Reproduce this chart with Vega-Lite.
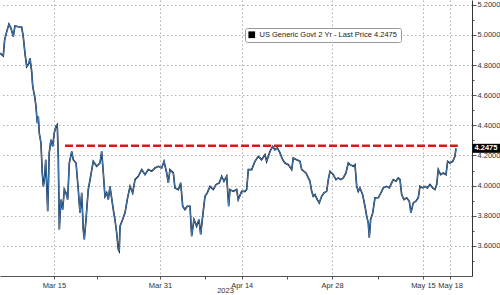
{
  "$schema": "https://vega.github.io/schema/vega-lite/v6.json",
  "width": 472,
  "height": 276,
  "autosize": "none",
  "padding": {"left": 0, "top": 0, "right": 28, "bottom": 19},
  "background": "white",
  "config": {"font": "Liberation Sans", "view": {"stroke": null}},
  "datasets": {
    "yield": [
      {"t": -6.27, "v": 4.879}, {"t": -5.89, "v": 4.861}, {"t": -5.73, "v": 4.967}, {"t": -5.49, "v": 5.022},
      {"t": -5.23, "v": 5.071}, {"t": -4.99, "v": 5.044}, {"t": -4.73, "v": 4.989}, {"t": -4.53, "v": 5.06},
      {"t": -4.15, "v": 5.055}, {"t": -3.75, "v": 5.051}, {"t": -3.57, "v": 4.989}, {"t": -3.37, "v": 4.879},
      {"t": -3.17, "v": 4.79}, {"t": -2.9, "v": 4.813}, {"t": -2.79, "v": 4.846}, {"t": -2.59, "v": 4.757},
      {"t": -2.47, "v": 4.658}, {"t": -2.21, "v": 4.581}, {"t": -2.09, "v": 4.525}, {"t": -1.94, "v": 4.415},
      {"t": -1.82, "v": 4.459}, {"t": -1.71, "v": 4.349}, {"t": -1.51, "v": 4.283}, {"t": -1.36, "v": 4.084},
      {"t": -1.24, "v": 3.995}, {"t": -1.13, "v": 4.029}, {"t": -0.96, "v": 4.172}, {"t": -0.73, "v": 3.83},
      {"t": -0.55, "v": 4.217}, {"t": -0.35, "v": 4.305}, {"t": -0.15, "v": 4.26}, {"t": 0.03, "v": 4.349},
      {"t": 0.23, "v": 4.393}, {"t": 0.38, "v": 4.404}, {"t": 0.5, "v": 4.194}, {"t": 0.62, "v": 3.709},
      {"t": 0.81, "v": 3.907}, {"t": 1.01, "v": 3.841}, {"t": 1.2, "v": 3.974}, {"t": 1.39, "v": 3.952},
      {"t": 1.59, "v": 3.907}, {"t": 1.78, "v": 4.15}, {"t": 2.06, "v": 4.227}, {"t": 2.24, "v": 4.172},
      {"t": 2.56, "v": 4.15}, {"t": 2.82, "v": 3.974}, {"t": 3.02, "v": 3.819}, {"t": 3.22, "v": 3.952},
      {"t": 3.4, "v": 3.709}, {"t": 3.52, "v": 3.642}, {"t": 3.72, "v": 3.775}, {"t": 3.98, "v": 3.974},
      {"t": 4.26, "v": 4.062}, {"t": 4.56, "v": 4.161}, {"t": 4.96, "v": 4.128}, {"t": 5.34, "v": 4.15},
      {"t": 5.54, "v": 4.227}, {"t": 5.73, "v": 4.084}, {"t": 5.92, "v": 3.929}, {"t": 6.12, "v": 3.952},
      {"t": 6.31, "v": 3.907}, {"t": 6.5, "v": 3.995}, {"t": 6.89, "v": 3.841}, {"t": 7.08, "v": 3.775},
      {"t": 7.28, "v": 3.687}, {"t": 7.47, "v": 3.576}, {"t": 7.58, "v": 3.565}, {"t": 7.67, "v": 3.731},
      {"t": 7.97, "v": 3.775}, {"t": 8.25, "v": 3.819}, {"t": 8.51, "v": 3.907}, {"t": 8.83, "v": 3.995},
      {"t": 9.14, "v": 3.952}, {"t": 9.41, "v": 4.04}, {"t": 9.79, "v": 4.062}, {"t": 10.19, "v": 4.106},
      {"t": 10.57, "v": 4.073}, {"t": 10.95, "v": 4.106}, {"t": 11.35, "v": 4.095}, {"t": 11.73, "v": 4.117},
      {"t": 12.11, "v": 4.128}, {"t": 12.51, "v": 4.117}, {"t": 12.78, "v": 4.161}, {"t": 13.09, "v": 4.084},
      {"t": 13.28, "v": 4.018}, {"t": 13.47, "v": 4.106}, {"t": 13.86, "v": 4.084}, {"t": 14.05, "v": 3.985},
      {"t": 14.44, "v": 3.974}, {"t": 14.72, "v": 4.018}, {"t": 14.95, "v": 3.863}, {"t": 15.21, "v": 3.841},
      {"t": 15.48, "v": 3.863}, {"t": 15.8, "v": 3.863}, {"t": 15.99, "v": 3.664}, {"t": 16.26, "v": 3.775},
      {"t": 16.57, "v": 3.731}, {"t": 16.84, "v": 3.775}, {"t": 17.04, "v": 3.676}, {"t": 17.27, "v": 3.797},
      {"t": 17.54, "v": 3.929}, {"t": 17.8, "v": 3.952}, {"t": 18.12, "v": 3.995}, {"t": 18.5, "v": 3.974},
      {"t": 18.82, "v": 4.007}, {"t": 19.2, "v": 4.018}, {"t": 19.48, "v": 4.062}, {"t": 19.74, "v": 4.029},
      {"t": 20.06, "v": 4.062}, {"t": 20.29, "v": 3.863}, {"t": 20.44, "v": 3.974}, {"t": 20.82, "v": 3.962},
      {"t": 21.22, "v": 3.974}, {"t": 21.4, "v": 3.907}, {"t": 21.8, "v": 3.962}, {"t": 22.18, "v": 3.962},
      {"t": 22.38, "v": 3.974}, {"t": 22.57, "v": 4.106}, {"t": 22.96, "v": 4.106}, {"t": 23.34, "v": 4.161},
      {"t": 23.73, "v": 4.194}, {"t": 24.12, "v": 4.172}, {"t": 24.51, "v": 4.205}, {"t": 24.7, "v": 4.161},
      {"t": 25.09, "v": 4.227}, {"t": 25.4, "v": 4.26}, {"t": 25.67, "v": 4.238}, {"t": 25.94, "v": 4.25},
      {"t": 26.25, "v": 4.217}, {"t": 26.56, "v": 4.172}, {"t": 26.83, "v": 4.15}, {"t": 27.21, "v": 4.139},
      {"t": 27.61, "v": 4.106}, {"t": 27.79, "v": 4.183}, {"t": 28.18, "v": 4.172}, {"t": 28.57, "v": 4.161},
      {"t": 28.77, "v": 4.106}, {"t": 29.04, "v": 4.095}, {"t": 29.27, "v": 4.084}, {"t": 29.54, "v": 4.051},
      {"t": 29.73, "v": 4.029}, {"t": 29.93, "v": 3.962}, {"t": 30.11, "v": 3.929}, {"t": 30.31, "v": 3.94},
      {"t": 30.58, "v": 3.907}, {"t": 30.81, "v": 3.885}, {"t": 31.09, "v": 3.929}, {"t": 31.36, "v": 3.952},
      {"t": 31.67, "v": 3.962}, {"t": 31.86, "v": 4.04}, {"t": 32.06, "v": 4.095}, {"t": 32.44, "v": 4.073},
      {"t": 32.75, "v": 4.04}, {"t": 33.02, "v": 4.051}, {"t": 33.3, "v": 4.04}, {"t": 33.6, "v": 4.051},
      {"t": 33.91, "v": 4.084}, {"t": 34.18, "v": 4.15}, {"t": 34.38, "v": 4.139}, {"t": 34.76, "v": 4.128},
      {"t": 34.96, "v": 4.139}, {"t": 35.16, "v": 3.995}, {"t": 35.34, "v": 3.962}, {"t": 35.54, "v": 3.985},
      {"t": 35.85, "v": 3.94}, {"t": 36.12, "v": 3.863}, {"t": 36.32, "v": 3.797}, {"t": 36.5, "v": 3.753},
      {"t": 36.62, "v": 3.654}, {"t": 36.78, "v": 3.775}, {"t": 37.02, "v": 3.819}, {"t": 37.28, "v": 3.919},
      {"t": 37.67, "v": 3.919}, {"t": 38.06, "v": 3.962}, {"t": 38.25, "v": 3.985}, {"t": 38.64, "v": 3.995},
      {"t": 38.94, "v": 3.985}, {"t": 39.22, "v": 4.018}, {"t": 39.41, "v": 4.04}, {"t": 39.72, "v": 4.029},
      {"t": 39.99, "v": 4.051}, {"t": 40.19, "v": 4.04}, {"t": 40.38, "v": 3.94}, {"t": 40.65, "v": 3.907},
      {"t": 40.96, "v": 3.919}, {"t": 41.27, "v": 3.896}, {"t": 41.46, "v": 3.819}, {"t": 41.73, "v": 3.885},
      {"t": 42.04, "v": 3.896}, {"t": 42.31, "v": 3.919}, {"t": 42.51, "v": 3.995}, {"t": 42.82, "v": 3.985},
      {"t": 43.09, "v": 3.995}, {"t": 43.36, "v": 3.985}, {"t": 43.67, "v": 4.007}, {"t": 43.98, "v": 3.985},
      {"t": 44.25, "v": 3.974}, {"t": 44.45, "v": 4.007}, {"t": 44.63, "v": 4.106}, {"t": 44.91, "v": 4.073},
      {"t": 45.21, "v": 4.084}, {"t": 45.53, "v": 4.073}, {"t": 45.72, "v": 4.161}, {"t": 45.99, "v": 4.15},
      {"t": 46.31, "v": 4.161}, {"t": 46.57, "v": 4.194}, {"t": 46.69, "v": 4.2475}
    ],
    "level": [{"t1": 1.28, "t2": 46.9, "v": 4.265}],
    "last": [{"t": 48.55, "v": 4.2475, "label": "4.2475"}]
  },
  "encoding": {
    "x": {
      "field": "t", "type": "quantitative",
      "scale": {"domain": [-6.27, 48.55], "nice": false, "zero": false},
      "axis": {
        "values": [0, 5, 12.3, 17.5, 21.8, 27.06, 32.3, 37.63, 42.85, 46],
        "labelExpr": "datum.value == 0 ? 'Mar 15' : datum.value == 12.3 ? 'Mar 31' : datum.value == 21.8 ? 'Apr 14' : datum.value == 32.3 ? 'Apr 28' : datum.value == 42.85 ? 'May 15' : datum.value == 46 ? 'May 18' : ''",
        "grid": true,
        "gridDash": [1.5, 2.5],
        "gridColor": "#b0b0b0",
        "gridOpacity": {"condition": {"test": "indexof([5, 17.5, 27.06, 37.63], datum.value) >= 0", "value": 0}, "value": 1},
        "title": "2023",
        "titleFontSize": 7.5,
        "titleFontWeight": "normal",
        "titleColor": "#333",
        "titleX": 225,
        "titlePadding": -2.5,
        "labelFontSize": 7.5,
        "labelColor": "#333",
        "labelPadding": 2,
        "labelFlush": false,
        "labelOverlap": false,
        "tickSize": 3,
        "tickColor": "#555",
        "domainColor": "#555"
      }
    },
    "y": {
      "field": "v", "type": "quantitative",
      "scale": {"domain": [3.4, 5.232], "nice": false, "zero": false},
      "axis": {
        "orient": "right",
        "values": [3.5, 3.6, 3.7, 3.8, 3.9, 4.0, 4.1, 4.2, 4.3, 4.4, 4.5, 4.6, 4.7, 4.8, 4.9, 5.0, 5.1, 5.2],
        "labelExpr": "round(datum.value * 10) % 2 == 0 ? format(datum.value, '.4f') : ''",
        "grid": true,
        "gridDash": [1.5, 2.5],
        "gridColor": "#b0b0b0",
        "gridOpacity": {"condition": {"test": "round(datum.value * 10) % 2 == 1", "value": 0}, "value": 1},
        "tickSize": {"condition": {"test": "round(datum.value * 10) % 2 == 1", "value": 2}, "value": 4},
        "tickColor": "#555",
        "domainColor": "#333",
        "title": null,
        "labelFontSize": 7.5,
        "labelColor": "#333",
        "labelPadding": 1,
        "labelFlush": false,
        "labelOverlap": false
      }
    }
  },
  "layer": [
    {
      "data": {"name": "yield"},
      "mark": {"type": "line", "strokeWidth": 1.6, "interpolate": "linear"},
      "encoding": {
        "color": {
          "datum": "US Generic Govt 2 Yr - Last Price 4.2475",
          "scale": {"range": ["#0b1624"]},
          "legend": {
            "title": null,
            "orient": "none",
            "legendX": 245,
            "legendY": 28,
            "fillColor": "white",
            "strokeColor": "#999",
            "cornerRadius": 2,
            "padding": 3,
            "symbolType": "square",
            "symbolFillColor": "#000",
            "symbolStrokeWidth": 0,
            "symbolSize": 45,
            "labelFontSize": 7.5,
            "labelColor": "#222",
            "labelLimit": 300
          }
        }
      }
    },
    {
      "data": {"name": "yield"},
      "mark": {"type": "line", "strokeWidth": 0.8, "color": "#4f95dc", "opacity": 1},
      "encoding": {}
    },
    {
      "data": {"name": "level"},
      "mark": {"type": "rule", "color": "#d7191c", "strokeWidth": 2.6, "strokeDash": [8, 3]},
      "encoding": {
        "x": {"field": "t1", "type": "quantitative"},
        "x2": {"field": "t2"},
        "y": {"field": "v", "type": "quantitative"}
      }
    },
    {
      "data": {"name": "last"},
      "mark": {"type": "point", "shape": "M0.1,-0.9L5.6,-0.9L5.6,0.9L0.1,0.9Z", "filled": true, "color": "#000", "opacity": 1, "size": 100},
      "encoding": {}
    },
    {
      "data": {"name": "last"},
      "mark": {"type": "text", "align": "left", "baseline": "middle", "dx": 2.5, "fontSize": 7.5, "color": "white", "fontWeight": "bold"},
      "encoding": {"text": {"field": "label"}}
    }
  ]
}
